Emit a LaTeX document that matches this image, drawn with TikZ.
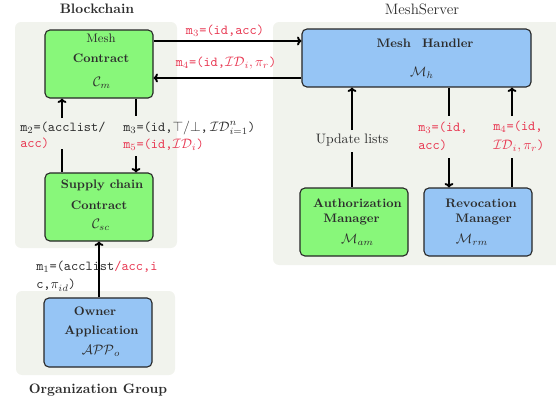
\documentclass[tikz,border=0pt]{standalone}
\usetikzlibrary{arrows.meta}
\definecolor{bgc}{RGB}{241,243,237}
\definecolor{gfill}{RGB}{136,247,122}
\definecolor{bfill}{RGB}{150,197,245}
\definecolor{redt}{RGB}{232,56,82}
\definecolor{txt}{RGB}{45,45,45}
\begin{document}
\begin{tikzpicture}[x=0.73pt,y=-0.73pt,
  box/.style={draw=black!85, line width=0.8pt, rounded corners=3.6pt, inner sep=0pt,
    minimum width=78.84pt, minimum height=49.64pt},
  gbox/.style={box, fill=gfill},
  bbox/.style={box, fill=bfill},
  arr/.style={line width=1.4pt, -{To[length=3.2pt,width=6.5pt]}},
  ln/.style={line width=1.4pt},
  ttl/.style={font=\small\bfseries, text=txt, inner sep=0pt},
  mth/.style={text=txt, inner sep=0pt},
  lbl/.style={font=\ttfamily, text=txt, align=left, inner sep=0pt, anchor=west},
  rlbl/.style={lbl, text=redt}
]
\useasboundingbox (0,0) rectangle (556,403);
% backgrounds
\fill[bgc, rounded corners=4.4pt] (15,22) rectangle (177,248);
\fill[bgc, rounded corners=4.4pt] (273,22) rectangle (566,265);
\fill[bgc, rounded corners=4.4pt] (16,291) rectangle (175,375);
% titles
\node[font=\bfseries, text=txt] (tbc) at (97,9) {Blockchain};
\node[font=\fontsize{11}{13}\selectfont, text=txt] (tms) at (422,9) {MeshServer};
\node[font=\bfseries, text=txt] (tog) at (98,390) {Organization Group};
% boxes
\node[gbox] (mc) at (99,64) {};
\node[gbox] (sc) at (99,207) {};
\node[bbox, minimum height=50.4pt] (oa) at (98,332.5) {};
\node[bbox, minimum width=167.2pt, minimum height=42.3pt] (mh) at (416.5,58) {};
\node[gbox] (am) at (354,222) {};
\node[bbox] (rm) at (478,222) {};
% box texts
\node[font=\small, text=txt, inner sep=0pt] (mc1) at (101,38) {Mesh};
\node[ttl] (mc2) at (101,58) {Contract};
\node[mth] (mc3) at (102,83) {$\mathcal{C}_m$};
\node[ttl] (sc1) at (102,185) {Supply chain};
\node[ttl] (sc2) at (99,205) {Contract};
\node[mth] (sc3) at (101,225) {$\mathcal{C}_{sc}$};
\node[ttl] (oa1) at (95,311) {Owner};
\node[ttl] (oa2) at (101.5,331) {Application};
\node[mth] (oa3) at (101,351) {$\mathcal{APP}_o$};
\node[ttl] (mh1) at (425,43) {Mesh\hspace{0.9em}Handler};
\node[mth] (mh2) at (422,73) {$\mathcal{M}_h$};
\node[ttl] (am1) at (357.5,203) {Authorization};
\node[ttl] (am2) at (351.5,220) {Manager};
\node[mth] (am3) at (357.5,240) {$\mathcal{M}_{am}$};
\node[ttl] (rm1) at (481,203) {Revocation};
\node[ttl] (rm2) at (483.5,220) {Manager};
\node[mth] (rm3) at (472,240) {$\mathcal{M}_{rm}$};
% horizontal arrows
\draw[arr] ([yshift=16.8pt]mc.east) -- ([yshift=16.8pt]mc.east -| mh.west);
\draw[arr] ([yshift=-10.2pt]mc.east -| mh.west) -- ([yshift=-10.2pt]mc.east);
\node[font=\ttfamily, text=redt, inner sep=0pt] (l3) at (225,31) {m$_3$=(id,acc)};
\node[font=\ttfamily, text=redt, inner sep=0pt] (l4) at (226,63) {m$_4$=(id,$\mathcal{ID}_i,\pi_r$)};
% blockchain vertical arrows
\coordinate (m2a) at (62,118);
\coordinate (m2b) at (62,149);
\draw[arr] (m2a) -- (m2a |- mc.south);
\draw[ln] (m2b) -- (m2b |- sc.north);
\node[lbl] (l2) at (20,135.5) {m$_2$=(acclist/\\\textcolor{redt}{acc)}};
\coordinate (m3a) at (136,116);
\coordinate (m3b) at (136,156);
\draw[ln] (m3a |- mc.south) -- (m3a);
\draw[arr] (m3b) -- (m3b |- sc.north);
\node[lbl] (l35) at (123,136) {m$_3$=(id,$\top/\bot$,\,$\mathcal{ID}^n_{i=1}$)\\[0.5pt]\textcolor{redt}{m$_5$=(id,$\mathcal{ID}_i$)}};
% owner arrow
\coordinate (m1x) at (99,0);
\draw[arr] (m1x |- oa.north) -- (m1x |- sc.south);
\node[lbl] (l1) at (36,276) {m$_1$=(acclist\textcolor{redt}{/acc,i}\\[1.5pt]c,$\pi_{id}$)};
% meshserver vertical arrows
\coordinate (ua) at (352,130);
\coordinate (ub) at (352,152);
\draw[arr] (ua) -- (ua |- mh.south);
\draw[ln] (ub) -- (ub |- am.north);
\node[font=\normalsize, text=txt, inner sep=0pt] (ul) at (352,140) {Update lists};
\coordinate (r3a) at (449,116);
\coordinate (r3b) at (449,158);
\draw[ln] (r3a |- mh.south) -- (r3a);
\draw[arr] (r3b) -- (r3b |- rm.north);
\node[rlbl] (lr3) at (418,136.5) {m$_3$=(id,\\[1.5pt]acc)};
\coordinate (r4a) at (512,116);
\coordinate (r4b) at (512,158);
\draw[arr] (r4a) -- (r4a |- mh.south);
\draw[ln] (r4b) -- (r4b |- rm.north);
\node[rlbl] (lr4) at (493,136.5) {m$_4$=(id,\\[1.5pt]$\mathcal{ID}_i,\pi_r$)};
\end{tikzpicture}
\end{document}
